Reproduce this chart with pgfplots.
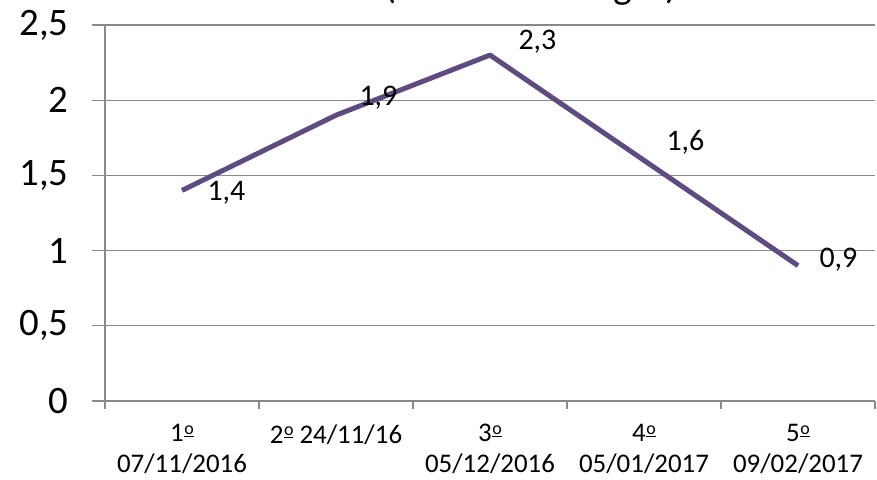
\documentclass[border=0pt]{standalone}
\usepackage{fontspec}
\setmainfont{Carlito}
\usepackage{pgfplots}
\pgfplotsset{compat=1.18}
\definecolor{lineP}{RGB}{95,75,128}
\definecolor{gridG}{RGB}{137,137,137}
\newcommand{\ord}{\kern0.5bp\raisebox{0.28em}{\fontsize{18}{18}\selectfont\underline{o}}}
\pgfplotstableread{
x y dx dy
1 1.4 23 -2
2 1.9 21 18
3 2.3 26 13
4 1.6 20 18
5 0.9 19 6
}\datatable
\begin{document}
\begin{tikzpicture}[x=1bp,y=1bp]
\clip (0,0) rectangle (877,480);
\begin{axis}[
  at={(105bp,79bp)}, anchor=south west,
  width=770bp, height=376bp, scale only axis,
  xmin=0.5, xmax=5.5, ymin=0, ymax=2.5,
  axis x line*=bottom, axis y line*=left,
  axis line style={gridG, line width=1.2bp, -},
  ytick={0,0.5,1,1.5,2,2.5},
  ymajorgrids, grid style={gridG, line width=1.2bp},
  xtick={1,2,3,4,5},
  xticklabels={{1\ord\\07/11/2016},{2\ord{} 24/11/16\\\strut},{3\ord\\05/12/2016},{4\ord\\05/01/2017},{5\ord\\09/02/2017}},
  minor xtick={0.5,1.5,2.5,3.5,4.5,5.5},
  tick align=outside,
  major tick length=13bp, minor tick length=8bp,
  tick style={gridG, line width=1.2bp},
  major x tick style={draw=none},
  /pgf/number format/use comma,
  /pgf/number format/assume math mode=true,
  yticklabel style={font=\fontsize{39}{47}\selectfont, xshift=-20bp},
  xticklabel style={font=\fontsize{27}{31}\selectfont, align=center, yshift=-7bp},
  clip=false,
]
\addplot[lineP, line width=5bp, line join=round,
  nodes near coords,
  point meta=y,
  visualization depends on={\thisrow{dx}\as\dx},
  visualization depends on={\thisrow{dy}\as\dy},
  every node near coord/.append style={anchor=west, inner sep=0pt, text=black,
    xshift=\dx bp, yshift=\dy bp, font=\fontsize{30}{36}\selectfont,
    /pgf/number format/fixed, /pgf/number format/precision=1}
] table[x=x, y=y] {\datatable};
\end{axis}
\node[anchor=base, font=\fontsize{40}{48}\selectfont] at (490,481) {DBO (valores em mg/L)};
\end{tikzpicture}
\end{document}
